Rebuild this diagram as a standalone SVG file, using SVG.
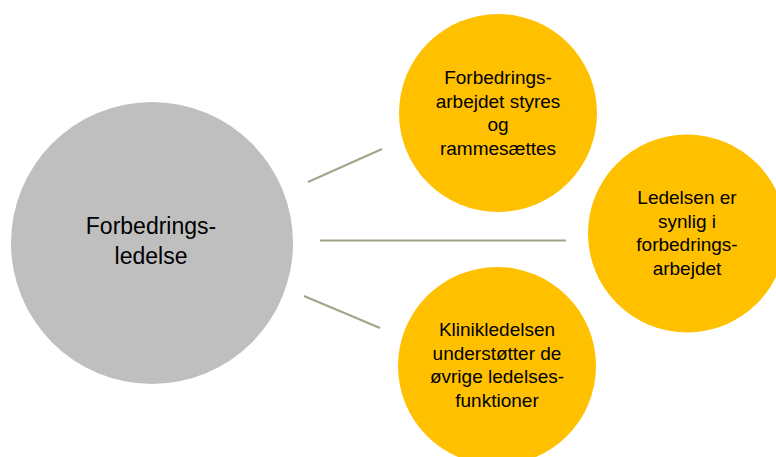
<svg xmlns="http://www.w3.org/2000/svg" width="776" height="457" viewBox="0 0 776 457">
<style>
.hub{fill:#BFBFBF}
.leaf{fill:#FFC000}
.t{font-family:"Liberation Sans","Open Sans",sans-serif;fill:#000;text-anchor:middle}
.tb{font-size:23px}
.ts{font-size:19px}
.c{stroke:#A3A38A;stroke-width:2;fill:none}
</style>
<rect width="776" height="457" fill="#FFFFFF"/>
<g id="connectors">
<line class="c" x1="308" y1="182" x2="382" y2="149"/>
<line class="c" x1="320" y1="240.5" x2="566" y2="240.5"/>
<line class="c" x1="304" y1="296" x2="380" y2="328"/>
</g>
<g id="hub">
<circle class="hub" cx="152" cy="243" r="141"/>
<text class="t tb" x="151" y="234">Forbedrings-</text>
<text class="t tb" x="151" y="264">ledelse</text>
</g>
<g id="node-top">
<circle class="leaf" cx="498" cy="113" r="99"/>
<text class="t ts" x="498" y="84">Forbedrings-</text>
<text class="t ts" x="498" y="107.5">arbejdet styres</text>
<text class="t ts" x="498" y="131">og</text>
<text class="t ts" x="498" y="154.5">rammesættes</text>
</g>
<g id="node-right">
<circle class="leaf" cx="687" cy="233.5" r="99"/>
<text class="t ts" x="687" y="204">Ledelsen er</text>
<text class="t ts" x="687" y="227.5">synlig i</text>
<text class="t ts" x="687" y="251">forbedrings-</text>
<text class="t ts" x="687" y="274.5">arbejdet</text>
</g>
<g id="node-bottom">
<circle class="leaf" cx="497" cy="366" r="99"/>
<text class="t ts" x="497" y="336">Klinikledelsen</text>
<text class="t ts" x="497" y="359.5">understøtter de</text>
<text class="t ts" x="497" y="383">øvrige ledelses-</text>
<text class="t ts" x="497" y="406.5">funktioner</text>
</g>
</svg>
